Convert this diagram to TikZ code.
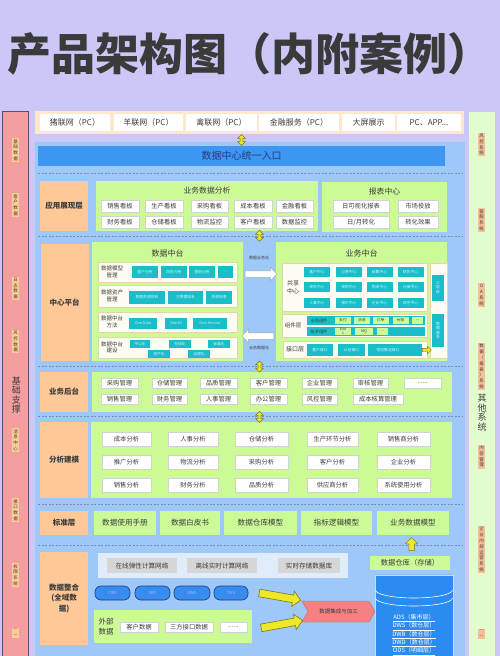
\documentclass[tikz,border=0pt]{standalone}
\usepackage{fontspec}
\setmainfont{Noto Sans CJK SC}
\usepackage{tikz}
\usetikzlibrary{calc}
\usetikzlibrary{arrows.meta}
\usetikzlibrary{shapes}
\usetikzlibrary{shapes.geometric}
\usetikzlibrary{shapes.arrows}
\usetikzlibrary{shapes.symbols}
\usetikzlibrary{positioning}
\tikzset{>=latex}
\newcommand{\fsz}[1]{\fontsize{#1}{#1}\selectfont}

\definecolor{bgcol}{RGB}{203,200,247}
\definecolor{titlegray}{RGB}{58,58,58}
\definecolor{leftcol}{RGB}{245,158,160}
\definecolor{rightcol}{RGB}{226,252,208}
\definecolor{tagorange}{RGB}{250,204,150}
\definecolor{tagpeach}{RGB}{246,192,150}
\definecolor{colborder}{RGB}{90,80,110}
\definecolor{peach}{RGB}{253,232,205}
\definecolor{basecol}{RGB}{158,200,248}
\definecolor{entryblue}{RGB}{60,150,242}
\definecolor{entrytext}{RGB}{40,60,130}
\definecolor{laborange}{RGB}{255,200,150}
\definecolor{panelgreen}{RGB}{204,250,150}
\definecolor{subwhite}{RGB}{252,252,242}
\definecolor{subedge}{RGB}{232,212,170}
\definecolor{cyanbox}{RGB}{25,190,200}
\definecolor{sepcol}{RGB}{120,140,180}
\definecolor{arrowyellow}{RGB}{238,232,40}
\definecolor{arrowolive}{RGB}{120,120,30}
\definecolor{netgray}{RGB}{214,214,214}
\definecolor{netpanel}{RGB}{224,236,250}
\definecolor{pillblue}{RGB}{55,140,240}
\definecolor{pilledge}{RGB}{30,60,130}
\definecolor{pinkarrow}{RGB}{245,130,130}
\definecolor{cylblue}{RGB}{42,140,240}
\definecolor{txt}{RGB}{60,60,60}

\tikzstyle{coltag} = [fill=tagorange, inner sep=1.3pt, align=center, font=\fontsize{4.5}{5.8}\selectfont, text=txt]
\tikzstyle{coltitle} = [align=center, font=\fontsize{9}{9.6}\selectfont, text=txt]
\tikzstyle{tbox} = [fill=white, minimum height=17pt, inner sep=0, font=\fsz{8}, text=txt]
\tikzstyle{layer} = [fill=laborange, minimum width=48pt, inner sep=0, align=center, font=\bfseries\fontsize{7.5}{10.5}\selectfont, text=txt]
\tikzstyle{gpanel} = [fill=panelgreen, inner sep=0]
\tikzstyle{ptitle} = [font=\fsz{7.8}, text=txt]
\tikzstyle{sbox} = [fill=white, draw=gray!35, inner sep=0, minimum height=12pt, font=\fsz{6.3}, text=txt]
\tikzstyle{subpanel} = [fill=subwhite, draw=subedge, inner sep=0]
\tikzstyle{sublab} = [align=center, font=\fontsize{5.5}{6.5}\selectfont, text=txt]
\tikzstyle{cbox} = [fill=cyanbox, inner sep=0, font=\fsz{3.8}, text=white!85!cyan]
\tikzstyle{gbox} = [fill=panelgreen, inner sep=0, font=\fsz{7.6}, text=txt]
\tikzstyle{sepline} = [draw=sepcol, dash pattern=on 2pt off 1.5pt, line width=0.6pt]
\tikzstyle{darrow} = [double arrow, shape border rotate=90, fill=arrowyellow, draw=arrowolive, line width=0.5pt, inner sep=1.2pt, double arrow head extend=2.5pt, minimum height=11pt]
\tikzstyle{bigarrow} = [single arrow, fill=arrowyellow, draw=arrowolive, line width=0.6pt, inner sep=3.5pt, single arrow head extend=4pt, minimum height=42pt]
\tikzstyle{warrow} = [single arrow, fill=white, draw=gray!70, inner sep=3pt, single arrow head extend=3.5pt, minimum height=32pt]

\begin{document}
\begin{tikzpicture}[x=1pt, y=-1pt]
\clip (0,0) rectangle (500,656);
\fill[bgcol] (0,0) rectangle (500,656);

\node[font=\bfseries\fsz{44}, text=titlegray] (title) at (250,54) {产品架构图（内附案例）};

% side columns
\node[draw=colborder, fill=leftcol, minimum width=26pt, minimum height=548pt, inner sep=0] (left) at (15,385) {};
\node[coltag] (l1) at (15.5,150) {基\\础\\数\\据};
\node[coltag] (l2) at (15.5,205) {客\\户\\数\\据};
\node[coltag] (l3) at (15.5,288.5) {日\\志\\数\\据};
\node[coltag] (l4) at (15.5,341.5) {风\\控\\数\\据};
\node[coltitle] (lt) at (16.5,395) {基\\础\\支\\撑};
\node[coltag] (l5) at (15.5,440) {消\\息\\中\\心};
\node[coltag] (l6) at (15.5,510) {接\\口\\数\\据};
\node[coltag] (l7) at (15.5,575) {权\\限\\系\\统};
\node[coltag] (l8) at (15.5,633) {—\\—};

\node[fill=rightcol, minimum width=26pt, minimum height=548pt, inner sep=0] (right) at (482,386) {};
\node[coltag, fill=tagpeach] (r1) at (481.5,144.5) {风\\控\\系\\统};
\node[coltag, fill=tagpeach] (r2) at (481.5,220) {客\\服\\系\\统};
\node[coltag, fill=tagpeach] (r3) at (481.5,295) {O\\A\\系\\统};
\node[coltag, fill=tagpeach] (r4) at (481.5,366.5) {数\\据\\（\\报\\表\\）\\系\\统};
\node[coltitle] (rt) at (482,412.5) {其\\他\\系\\统};
\node[coltag, fill=tagpeach] (r5) at (481.5,456.5) {内\\容\\管\\理};
\node[coltag, fill=tagpeach] (r6) at (481.5,549.5) {企\\业\\内\\部\\运\\营\\系\\统};
\node[coltag, fill=tagpeach] (r7) at (481.5,634) {—\\—};

% top row
\node[fill=peach, minimum width=429pt, minimum height=23pt, inner sep=0] (toprow) at (249.5,122.5) {};
\node[tbox, minimum width=70pt] (pig) at (75,122.5) {猪联网（PC）};
\node[tbox, minimum width=69pt] (sheep) at (148.5,122.5) {羊联网（PC）};
\node[tbox, minimum width=71pt] (fowl) at (221.5,122.5) {禽联网（PC）};
\node[tbox, minimum width=80pt] (fin) at (299,122.5) {金融服务（PC）};
\node[tbox, minimum width=53pt] (screen) at (368.5,122.5) {大屏展示};
\node[tbox, minimum width=64pt] (app) at (429,122.5) {PC、APP...};

\node[fill=basecol, minimum width=430pt, minimum height=520pt, inner sep=0, anchor=north west] (base) at (35,142) {};
\node[fill=entryblue, minimum width=407pt, minimum height=20pt, inner sep=0, font=\fsz{10}, text=entrytext] (entry) at (241.5,156) {数据中心统一入口};
\path (toprow.south -| entry.north) -- node[darrow] (ar1) {} (entry.north);

\draw[sepline] (38,173) -- (462,173);
\draw[sepline] (38,236) -- (462,236);
\draw[sepline] (38,366) -- (462,366);
\draw[sepline] (38,416) -- (462,416);
\draw[sepline] (38,504) -- (462,504);
\draw[sepline] (38,545) -- (462,545);

% application layer
\node[layer, minimum height=50pt] (yyzx) at (64,206) {应用展现层};
\node[gpanel, minimum width=222pt, minimum height=50pt] (ywfx) at (207,206) {};
\node[ptitle] (ywfxt) at (207,191) {业务数据分析};
\node[sbox, minimum width=38pt] (kb1) at (120,206) {销售看板};
\node[sbox, minimum width=38pt] (kb2) at (164,206) {生产看板};
\node[sbox, minimum width=37pt] (kb3) at (209.5,206) {采购看板};
\node[sbox, minimum width=38pt] (kb4) at (253,206) {成本看板};
\node[sbox, minimum width=37pt] (kb5) at (294.5,206) {金融看板};
\node[sbox, minimum width=38pt] (kb6) at (120,222.5) {财务看板};
\node[sbox, minimum width=38pt] (kb7) at (164,222.5) {仓储看板};
\node[sbox, minimum width=37pt] (kb8) at (209.5,222.5) {物流监控};
\node[sbox, minimum width=38pt] (kb9) at (253,222.5) {客户看板};
\node[sbox, minimum width=37pt] (kb10) at (294.5,222.5) {数据监控};
\node[gpanel, minimum width=125pt, minimum height=50pt] (bbzx) at (384.5,207) {};
\node[ptitle] (bbzxt) at (384.5,192) {报表中心};
\node[sbox, minimum width=56pt] (bb1) at (361,206) {日可视化报表};
\node[sbox, minimum width=40pt] (bb2) at (418,206) {市场投放};
\node[sbox, minimum width=56pt] (bb3) at (361,222.5) {日/月转化};
\node[sbox, minimum width=40pt] (bb4) at (418,222.5) {转化效果};

% center platform
\node[layer, minimum height=117pt] (zxpt) at (64.5,302.5) {中心平台};
\node[gpanel, minimum width=151pt, minimum height=119pt] (sjzt) at (167.5,301.5) {};
\node[ptitle, font=\fsz{8}] (sjztt) at (167.5,253) {数据中台};
\node[gpanel, minimum width=171pt, minimum height=119pt] (ywzt) at (361.5,301.5) {};
\node[ptitle, font=\fsz{8}] (ywztt) at (361.5,253) {业务中台};
\path ($(sjzt.north east)!0.5!(ywzt.north west)$) ++(0,-6) node[darrow] (ar2) {};

\node[subpanel, minimum width=139pt, minimum height=20pt] (mx) at (167.5,272) {};
\node[sublab] (mxl) at (112,272) {数据模型\\管理};
\node[cbox, minimum width=26pt, minimum height=12pt] (mx1) at (145,272) {客户分析};
\node[cbox, minimum width=26pt, minimum height=12pt] (mx2) at (174,272) {风险分析};
\node[cbox, minimum width=26pt, minimum height=12pt] (mx3) at (202,272) {营销分析};
\node[cbox, minimum width=15pt, minimum height=12pt] (mx4) at (225.5,272) {...};
\node[subpanel, minimum width=139pt, minimum height=22pt] (zc) at (167.5,296) {};
\node[sublab] (zcl) at (112,296) {数据资产\\管理};
\node[cbox, minimum width=36pt, minimum height=13pt] (zc1) at (147,297.5) {数据资源体系};
\node[cbox, minimum width=35pt, minimum height=13pt] (zc2) at (185.5,297.5) {主数据体系};
\node[cbox, minimum width=26pt, minimum height=13pt] (zc3) at (219,297.5) {资源目录};
\node[subpanel, minimum width=139pt, minimum height=20pt] (ff) at (167.5,322) {};
\node[sublab] (ffl) at (112,322) {数据中台\\方法};
\node[cbox, minimum width=28pt, minimum height=11pt] (ff1) at (143,323.5) {One Data};
\node[cbox, minimum width=22pt, minimum height=11pt] (ff2) at (176,323.5) {One ID};
\node[cbox, minimum width=34pt, minimum height=11pt] (ff3) at (210,323.5) {One Service};
\node[subpanel, minimum width=139pt, minimum height=21pt] (js) at (167.5,347.5) {};
\node[sublab] (jsl) at (112,347.5) {数据中台\\建设};
\node[cbox, minimum width=20pt, minimum height=8pt] (js1) at (140,344) {中心化};
\node[cbox, minimum width=22pt, minimum height=8pt] (js2) at (180,344) {在线化};
\node[cbox, minimum width=22pt, minimum height=8pt] (js3) at (219,344) {标准化};
\node[cbox, minimum width=22pt, minimum height=8pt] (js4) at (159,354) {资产化};
\node[cbox, minimum width=22pt, minimum height=8pt] (js5) at (199,354) {治理化};

\path ([yshift=27.5pt]sjzt.east) -- node[warrow] (ar5) {} ([yshift=27.5pt]ywzt.west);
\node[font=\fsz{4}, text=txt] (ar5l) at (259,258) {数据业务化};
\path ([yshift=-34.5pt]ywzt.west) -- node[warrow, shape border rotate=180] (ar6) {} ([yshift=-34.5pt]sjzt.east);
\node[font=\fsz{4}, text=txt] (ar6l) at (259,348) {业务数据化};

\node[subpanel, minimum width=145pt, minimum height=48pt] (gx) at (354.5,287) {};
\node[sublab, font=\fontsize{6}{7.5}\selectfont] (gxl) at (293,287) {共享\\中心};
\node[cbox, minimum width=26pt, minimum height=10pt] (gx1) at (317,272) {客户中心};
\node[cbox, minimum width=26pt, minimum height=10pt] (gx2) at (349,272) {订单中心};
\node[cbox, minimum width=26pt, minimum height=10pt] (gx3) at (379.5,272) {结算中心};
\node[cbox, minimum width=26pt, minimum height=10pt] (gx4) at (410.5,272) {财务中心};
\node[cbox, minimum width=26pt, minimum height=10pt] (gx5) at (317,287) {库存中心};
\node[cbox, minimum width=26pt, minimum height=10pt] (gx6) at (349,287) {采购中心};
\node[cbox, minimum width=26pt, minimum height=10pt] (gx7) at (379.5,287) {物流中心};
\node[cbox, minimum width=26pt, minimum height=10pt] (gx8) at (410.5,287) {仓储中心};
\node[cbox, minimum width=26pt, minimum height=10pt] (gx9) at (317,303) {人事中心};
\node[cbox, minimum width=26pt, minimum height=10pt] (gx10) at (349,303) {报价中心};
\node[cbox, minimum width=26pt, minimum height=10pt] (gx11) at (379.5,303) {企业中心};
\node[cbox, minimum width=26pt, minimum height=10pt] (gx12) at (410.5,303) {风控中心};

\node[subpanel, minimum width=145pt, minimum height=23pt] (zj) at (354.5,325.5) {};
\node[sublab] (zjl) at (293,325.5) {组件层};
\node[cbox, minimum width=118pt, minimum height=9pt] (zja) at (366,320.5) {};
\node[font=\fsz{4.2}, text=txt] (zjat) at (319,320.5) {业务组件};
\node[cbox, fill=panelgreen, text=txt, minimum width=16pt, minimum height=7pt] (zj1) at (343,320.5) {支付};
\node[cbox, fill=panelgreen, text=txt, minimum width=16pt, minimum height=7pt] (zj2) at (362,320.5) {消息};
\node[cbox, fill=panelgreen, text=txt, minimum width=16pt, minimum height=7pt] (zj3) at (380.5,320.5) {订单};
\node[cbox, fill=panelgreen, text=txt, minimum width=16pt, minimum height=7pt] (zj4) at (400.5,320.5) {台账};
\node[cbox, fill=panelgreen, text=txt, minimum width=11pt, minimum height=7pt] (zj5) at (417.5,320.5) {...};
\node[cbox, minimum width=118pt, minimum height=9pt] (zjb) at (366,331.5) {};
\node[font=\fsz{4.2}, text=txt] (zjbt) at (319,331.5) {技术组件};
\node[cbox, fill=panelgreen, text=txt, minimum width=16pt, minimum height=7pt, align=center, font=\fontsize{3}{3.2}\selectfont] (zj6) at (343,331.5) {EDM\\S};
\node[cbox, fill=panelgreen, text=txt, minimum width=18pt, minimum height=7pt] (zj7) at (364,331.5) {MQ};
\node[cbox, fill=panelgreen, text=txt, minimum width=11pt, minimum height=7pt] (zj8) at (382.5,331.5) {...};

\node[subpanel, minimum width=144pt, minimum height=17pt] (jk) at (355,349.5) {};
\node[sublab, font=\fsz{6}] (jkl) at (295,349.5) {接口层};
\node[cbox, minimum width=26pt, minimum height=12pt] (jk1) at (320,350) {客户接口};
\node[cbox, minimum width=27pt, minimum height=12pt] (jk2) at (351.5,350) {认证接口};
\node[cbox, minimum width=40pt, minimum height=12pt] (jk3) at (388,350) {短信推送接口};
\node[cbox, minimum width=14pt, minimum height=12pt] (jk4) at (415,350) {};

\node[subpanel, minimum width=17pt, minimum height=95pt] (fwp) at (438.5,310.5) {};
\node[cbox, minimum width=12pt, minimum height=26pt, align=center, font=\fontsize{3.8}{4.6}\selectfont] (fw1) at (438,287.5) {三\\层\\级};
\node[cbox, minimum width=12pt, minimum height=33pt, align=center, font=\fontsize{3.8}{4.6}\selectfont] (fw2) at (438,330.5) {数\\据\\服\\务};
\path (jk4.east) -- node[single arrow, fill=arrowyellow, draw=arrowolive, line width=0.4pt, inner sep=1.5pt, single arrow head extend=2pt, minimum height=9pt] (ar7) {} (fwp.west |- jk4);

% business back office
\node[layer, minimum height=40pt] (ywht) at (64,392) {业务后台};
\node[gpanel, minimum width=360pt, minimum height=40pt] (htp) at (272,392) {};
\path (ar2 |- zxpt.south) -- node[darrow] (ar3) {} (ar2 |- ywht.north);
\node[sbox, minimum width=37pt, minimum height=10pt] (ht1) at (119.5,383) {采购管理};
\node[sbox, minimum width=35pt, minimum height=10pt] (ht2) at (169.5,383) {仓储管理};
\node[sbox, minimum width=37pt, minimum height=10pt] (ht3) at (218.5,383) {品质管理};
\node[sbox, minimum width=37pt, minimum height=10pt] (ht4) at (268.5,383) {客户管理};
\node[sbox, minimum width=35pt, minimum height=10pt] (ht5) at (319.5,383) {企业管理};
\node[sbox, minimum width=35pt, minimum height=10pt] (ht6) at (370.5,383) {审核管理};
\node[sbox, minimum width=37pt, minimum height=10pt] (ht7) at (422.5,383) {......};
\node[sbox, minimum width=37pt, minimum height=10pt] (ht8) at (119.5,399) {销售管理};
\node[sbox, minimum width=35pt, minimum height=10pt] (ht9) at (169.5,399) {财务管理};
\node[sbox, minimum width=37pt, minimum height=10pt] (ht10) at (218.5,399) {人事管理};
\node[sbox, minimum width=37pt, minimum height=10pt] (ht11) at (268.5,399) {办公管理};
\node[sbox, minimum width=35pt, minimum height=10pt] (ht12) at (319.5,399) {风控管理};
\node[sbox, minimum width=50pt, minimum height=10pt] (ht13) at (378,399) {成本核算管理};

% analysis
\node[layer, minimum height=76pt] (fxjm) at (64,460) {分析建模};
\node[gpanel, minimum width=361pt, minimum height=76pt] (fxp) at (271.5,460) {};
\path (ar2 |- ywht.south) -- node[darrow] (ar4) {} (ar2 |- fxjm.north);
\node[sbox, minimum width=49pt, minimum height=14pt] (fx1) at (126.5,439) {成本分析};
\node[sbox, minimum width=50pt, minimum height=14pt] (fx2) at (193,439) {人事分析};
\node[sbox, minimum width=53pt, minimum height=14pt] (fx3) at (261.5,439) {仓储分析};
\node[sbox, minimum width=51pt, minimum height=14pt] (fx4) at (332.5,439) {生产环节分析};
\node[sbox, minimum width=53pt, minimum height=14pt] (fx5) at (403.5,439) {销售商分析};
\node[sbox, minimum width=49pt, minimum height=14pt] (fx6) at (126.5,462) {推广分析};
\node[sbox, minimum width=50pt, minimum height=14pt] (fx7) at (193,462) {物流分析};
\node[sbox, minimum width=53pt, minimum height=14pt] (fx8) at (261.5,462) {采购分析};
\node[sbox, minimum width=51pt, minimum height=14pt] (fx9) at (332.5,462) {客户分析};
\node[sbox, minimum width=53pt, minimum height=14pt] (fx10) at (403.5,462) {企业分析};
\node[sbox, minimum width=49pt, minimum height=14pt] (fx11) at (126.5,485) {销售分析};
\node[sbox, minimum width=50pt, minimum height=14pt] (fx12) at (193,485) {财务分析};
\node[sbox, minimum width=53pt, minimum height=14pt] (fx13) at (261.5,485) {品质分析};
\node[sbox, minimum width=51pt, minimum height=14pt] (fx14) at (332.5,485) {供应商分析};
\node[sbox, minimum width=53pt, minimum height=14pt] (fx15) at (403.5,485) {系统使用分析};

% standard layer
\node[layer, minimum height=24pt] (bzc) at (64,523) {标准层};
\node[gbox, minimum width=62pt, minimum height=24pt] (bz1) at (125,523) {数据使用手册};
\node[gbox, minimum width=60pt, minimum height=24pt] (bz2) at (190,523) {数据白皮书};
\node[gbox, minimum width=73pt, minimum height=24pt] (bz3) at (260.5,523) {数据仓库模型};
\node[gbox, minimum width=71pt, minimum height=24pt] (bz4) at (336.5,523) {指标逻辑模型};
\node[gbox, minimum width=72pt, minimum height=24pt] (bz5) at (413,523) {业务数据模型};

% data integration
\node[layer, minimum height=93pt] (sjzh) at (64,598.5) {数据整合\\(全域数\\据)};
\node[fill=netpanel, minimum width=250pt, minimum height=25pt, inner sep=0] (net) at (223,565.5) {};
\node[fill=netgray, minimum width=70pt, minimum height=15pt, inner sep=0, font=\fsz{6.6}, text=txt] (net1) at (142,565.5) {在线弹性计算网络};
\node[fill=netgray, minimum width=70pt, minimum height=15pt, inner sep=0, font=\fsz{6.6}, text=txt] (net2) at (222,565.5) {离线实时计算网络};
\node[fill=netgray, minimum width=62pt, minimum height=15pt, inner sep=0, font=\fsz{6.6}, text=txt] (net3) at (309,565.5) {实时存储数据库};
\node[rounded corners=6pt, fill=pillblue, draw=pilledge, line width=0.6pt, minimum width=35pt, minimum height=14pt, inner sep=0, font=\fsz{4}, text=white!70!blue] (crm) at (112.5,593) {CRM};
\node[rounded corners=6pt, fill=pillblue, draw=pilledge, line width=0.6pt, minimum width=35pt, minimum height=14pt, inner sep=0, font=\fsz{4}, text=white!70!blue] (erp) at (152.5,593) {ERP};
\node[rounded corners=6pt, fill=pillblue, draw=pilledge, line width=0.6pt, minimum width=36pt, minimum height=14pt, inner sep=0, font=\fsz{4}, text=white!70!blue] (wms) at (192,593) {WMS};
\node[rounded corners=6pt, fill=pillblue, draw=pilledge, line width=0.6pt, minimum width=34pt, minimum height=14pt, inner sep=0, font=\fsz{4}, text=white!70!blue] (tms) at (231,593) {TMS};
\node[gpanel, minimum width=158pt, minimum height=33pt] (wb) at (173,626.5) {};
\node[align=center, font=\fontsize{7.5}{9.5}\selectfont, text=txt] (wbl) at (106,626.5) {外部\\数据};
\node[sbox, minimum width=38pt, minimum height=10pt] (wb1) at (139,627) {客户数据};
\node[sbox, minimum width=48pt, minimum height=10pt] (wb2) at (189,627) {三方接口数据};
\node[sbox, minimum width=27pt, minimum height=10pt] (wb3) at (233.5,627) {......};

\node[signal, signal to=east, signal from=west, signal pointer angle=120, fill=pinkarrow, draw=pinkarrow!80!black, line width=0.4pt, minimum width=73pt, minimum height=21pt, inner sep=0, font=\fsz{5.5}, text=txt] (jc) at (338.5,611.5) {数据集成与加工};
\path ([yshift=2pt]tms.east) -- node[bigarrow, sloped] (ar8) {} ([yshift=10pt]jc.west);
\path ([yshift=-3pt]wb.east) -- node[bigarrow, sloped] (ar9) {} ([yshift=-8pt]jc.west);

\node[gbox, minimum width=80pt, minimum height=14pt, font=\fsz{7.3}] (ck) at (410,563) {数据仓库（存储）};
\path (ck.north) -- node[single arrow, shape border rotate=90, fill=arrowyellow, draw=arrowolive, line width=0.5pt, inner sep=2.5pt, single arrow head extend=3.5pt, minimum height=13pt] (ar10) {} (bz5.south);

\node[cylinder, shape border rotate=90, aspect=0.25, fill=cylblue, draw=white!70!cylblue, minimum width=78pt, minimum height=110pt, inner sep=0] (cyl) at (414,630) {};
\draw[white, line width=0.6pt] (375.5,590) arc[start angle=180, end angle=360, x radius=38.5pt, y radius=8pt];
\draw[white, line width=0.6pt] (375.5,598) arc[start angle=180, end angle=360, x radius=38.5pt, y radius=8pt];
\node[align=center, font=\fontsize{6}{8.3}\selectfont, text=white] (cylt) at (414,635) {\underline{ADS（集市层）}\\\underline{DWS（数仓层）}\\\underline{DWB（数仓层）}\\\underline{DWD（数仓层）}\\\underline{ODS（明细层）}};
\end{tikzpicture}
\end{document}
